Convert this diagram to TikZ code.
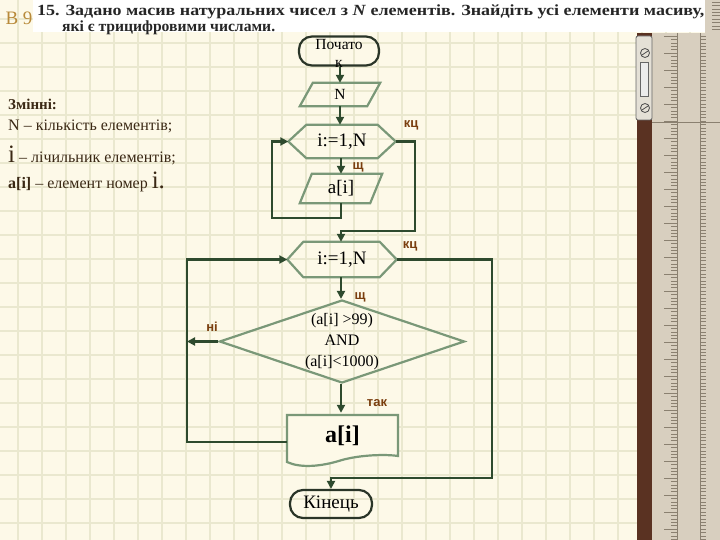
\documentclass[tikz,border=0pt]{standalone}
\usepackage{fontspec}
\usepackage{graphicx}
\setmainfont{Liberation Serif}
\newfontfamily\lsans{Liberation Sans}
\usetikzlibrary{arrows.meta,calc,shapes.geometric}
\definecolor{bg}{HTML}{FDF9E8}
\definecolor{gridc}{HTML}{EAE8CF}
\definecolor{shapec}{HTML}{7A9878}
\definecolor{linec}{HTML}{2E4A2E}
\definecolor{termc}{HTML}{2A3528}
\definecolor{lab}{HTML}{7A3E0E}
\definecolor{txt}{HTML}{3A2814}
\definecolor{ochre}{HTML}{B88A3A}
\definecolor{rulerc}{HTML}{D8CFBF}
\definecolor{rulerd}{HTML}{8A8070}
\definecolor{brownc}{HTML}{5A3222}
\definecolor{metal}{HTML}{E4E0D6}
\begin{document}
\begin{tikzpicture}[x=1pt,y=-1pt,
  conn/.style={draw=linec, line width=2.8pt},
  arr/.style={conn, -{Triangle[length=8pt,width=8pt]}},
  outl/.style={draw=shapec, line width=2.2pt, line join=miter},
  term/.style={draw=termc, line width=2.2pt, rounded corners=13pt, inner sep=0},
  boxn/.style={inner sep=0, text=black},
  lbl/.style={font=\lsans\bfseries\fontsize{13}{15}\selectfont, text=lab, inner sep=0},
  lefttxt/.style={anchor=west, inner sep=0, text=txt, font=\fontsize{16}{18}\selectfont}
]
\useasboundingbox (0,0) rectangle (720,540);
% background and grid
\fill[bg] (0,0) rectangle (720,540);
\foreach \gx in {18,42,...,714} \draw[gridc, line width=2pt] (\gx,0) -- (\gx,540);
\foreach \gy in {19,43,...,540} \draw[gridc, line width=2pt] (0,\gy) -- (720,\gy);
% title band
\fill[white] (33,0) rectangle (705,32);
\node[anchor=center, inner sep=0, text=ochre, font=\fontsize{19}{21}\selectfont] (b9) at (19,18) {В 9};
\node[anchor=west, inner sep=0, text=black!85] (t1) at (37,12)
  {\resizebox{667pt}{\height}{\bfseries\fontsize{15.5}{17}\selectfont 15. Задано масив натуральних чисел з \textit{N} елементів. Знайдіть усі елементи масиву,}};
\node[anchor=west, inner sep=0, text=black!85] (t2) at (62,28)
  {\resizebox{213pt}{\height}{\bfseries\fontsize{15.5}{17}\selectfont які є трицифровими числами.}};
% left text
\node[lefttxt, font=\bfseries\fontsize{15}{17}\selectfont] (v0) at (8,104) {Змінні:};
\node[lefttxt] (v1) at (8,126) {N – кількість елементів;};
\node[lefttxt] (v2) at (8,155) {{\fontsize{25}{27}\selectfont i} – лічильник елементів;};
\node[lefttxt] (v3) at (8,182) {\textbf{a[i]} – елемент номер {\fontsize{25}{27}\selectfont i.}};
% document shape outline (drawn first)
\draw[outl, fill=bg] (287,415) -- (398,415) -- (398,456)
  .. controls (385,454) and (360,455) .. (342,460)
  .. controls (320,467) and (300,468) .. (287,462) -- cycle;
% nodes
\node[term, minimum width=80pt, minimum height=29pt] (st) at (339,51) {};
\node[inner sep=0, align=center, font=\fontsize{15.5}{18}\selectfont] (sttxt) at (339,53) {Почато\\к};
\node[boxn, minimum width=80pt, minimum height=23pt, font=\fontsize{15.5}{17}\selectfont] (n) at (340,94.5) {N};
\node[boxn, minimum width=107pt, minimum height=33pt, font=\fontsize{19}{21}\selectfont] (h1) at (342,141.5) {i:=1,N};
\node[boxn, minimum width=82pt, minimum height=29pt, font=\fontsize{19}{21}\selectfont] (a) at (341,188.5) {a[i]};
\node[boxn, minimum width=109pt, minimum height=35pt, font=\fontsize{19}{21}\selectfont] (h2) at (342,259.5) {i:=1,N};
\node[diamond, outl, inner sep=0, aspect=3, minimum width=245pt, minimum height=83pt, align=center, font=\fontsize{16}{21}\selectfont] (d) at (342,341.5) {(a[i] >99)\\AND\\(a[i]<1000)};
\node[boxn, minimum width=111pt, minimum height=46pt, font=\bfseries\fontsize{24}{26}\selectfont] (doc) at (342.5,436) {a[i]};
\node[term, minimum width=82pt, minimum height=28pt, font=\fontsize{19}{21}\selectfont] (en) at (331,504) {Кінець};
% shape outlines
\draw[outl] (n.south west) -- ($(n.north west)+(13,0)$) -- (n.north east) -- ($(n.south east)+(-13,0)$) -- cycle;
\draw[outl] (a.south west) -- ($(a.north west)+(12,0)$) -- (a.north east) -- ($(a.south east)+(-12,0)$) -- cycle;
\draw[outl] (h1.west) -- ($(h1.north west)+(18,0)$) -- ($(h1.north east)+(-18,0)$) -- (h1.east)
  -- ($(h1.south east)+(-18,0)$) -- ($(h1.south west)+(18,0)$) -- cycle;
\draw[outl] (h2.west) -- ($(h2.north west)+(16,0)$) -- ($(h2.north east)+(-17,0)$) -- (h2.east)
  -- ($(h2.south east)+(-17,0)$) -- ($(h2.south west)+(16,0)$) -- cycle;
% coordinates
\coordinate (l1) at (272,218);
\coordinate (r1) at (415,231);
\coordinate (l3) at (187,442);
\coordinate (r2) at (492,478);
% connectors
\draw[arr] (st.south -| n.north) -- (n.north);
\draw[arr] (n.south) -- (n.south |- h1.north);
\draw[arr] (h1.south -| a.north) -- (a.north);
\draw[arr] (a.south) |- (l1) |- (h1.west);
\draw[arr] (h1.east) -| (r1) -| (h2.north -| a.north);
\draw[arr] (h2.south -| a.north) -- (d.north -| a.north);
\draw[arr] (d.west) -- (d.west -| l3);
\draw[arr] (d.south -| a.north) -- (doc.north -| a.north);
\draw[arr] (doc.west |- l3) -- (l3) |- (h2.west);
\draw[arr] (h2.east) -| (r2) -| (en.north);
% labels
\node[lbl] (k1) at (411,125) {кц};
\node[lbl] (s1) at (358,167) {щ};
\node[lbl] (k2) at (410,246) {кц};
\node[lbl] (s2) at (360,297) {щ};
\node[lbl] (ni) at (212,327) {ні};
\node[lbl] (tak) at (377,403) {так};
% ruler
\fill[rulerc] (705,0) rectangle (720,33);
\fill[rulerc] (652,33) rectangle (720,540);
\fill[brownc] (637,33) rectangle (652,540);
\draw[rulerd, line width=0.8pt] (652,122) -- (720,122);
\draw[rulerd, line width=0.6pt] (677,33) -- (677,540);
\draw[rulerd, line width=0.6pt] (700,33) -- (700,540);
\foreach \ty in {36,39.4,...,540} \draw[rulerd, line width=0.4pt] (671,\ty) -- (677,\ty);
\foreach \ty in {36,53,...,540} \draw[rulerd, line width=0.5pt] (664,\ty) -- (677,\ty);
\foreach \ty in {36,39.4,...,540} \draw[rulerd, line width=0.4pt] (700,\ty) -- (706,\ty);
\foreach \ty in {2,5.4,...,32} \draw[rulerd, line width=0.4pt] (712,\ty) -- (720,\ty);
\draw[black!60, fill=metal, line width=0.8pt, rounded corners=2pt] (636,36) rectangle (652,120);
\draw[black!60, fill=white!85!gray, line width=0.5pt] (640,62) rectangle (648,96);
\draw[black!70, fill=metal, line width=0.8pt] (645,53) circle (4.5);
\draw[black!70, line width=0.8pt] (642,55) -- (648,51);
\draw[black!70, fill=metal, line width=0.8pt] (645,108) circle (4.5);
\draw[black!70, line width=0.8pt] (642,110) -- (648,106);
\end{tikzpicture}
\end{document}
